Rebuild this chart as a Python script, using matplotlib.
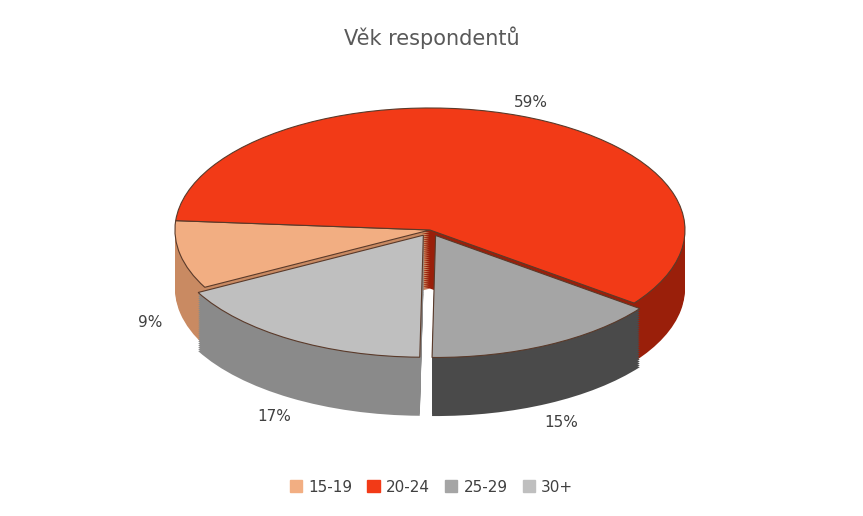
import matplotlib
matplotlib.use("Agg")
import matplotlib.pyplot as plt
import numpy as np

categories = ["15-19", "20-24", "25-29", "30+"]
values = [9, 59, 15, 17]
top_colors = ["#F2AE82", "#F23A17", "#A5A5A5", "#BFBFBF"]
side_colors = ["#C98A62", "#9A1F0A", "#4A4A4A", "#8A8A8A"]
explode = [0.0, 0.0, 0.05, 0.05]
start = 208

fig = plt.figure(figsize=(8.63, 5.16), dpi=100)
ax = fig.add_axes([0, 0, 1, 1])
depth = 0.48
n = 30
for k in range(n, 0, -1):
    off = -depth * k / n
    ax.pie(values, colors=side_colors, startangle=start, counterclock=False,
           explode=explode, center=(0, off), wedgeprops=dict(linewidth=0))
wedges, texts, autot = ax.pie(values, colors=top_colors, startangle=start, counterclock=False,
       explode=explode, center=(0, 0), autopct=lambda p: f"{round(p)}%", pctdistance=1.12,
       wedgeprops=dict(linewidth=0.8, edgecolor="#5a3a2a"),
       textprops=dict(color="#404040", fontsize=11))
for t in autot:
    x, y = t.get_position()
    if y < 0:
        t.set_position((x, y - depth - 0.05))
ax.set_aspect("auto")
ax.set_xlim(-1.686, 1.698)
ax.set_ylim(-2.344, 1.885)
ax.axis("off")

fig.text(0.5, 1 - 38 / 516, "Věk respondentů", ha="center", va="center",
         fontsize=15, color="#595959")
handles = [plt.Rectangle((0, 0), 1, 1, color=c) for c in top_colors]
fig.legend(handles, categories, loc="center", bbox_to_anchor=(0.5, 1 - 487 / 516),
           ncol=4, frameon=False, fontsize=11, handlelength=0.8, handleheight=0.8,
           columnspacing=1.0, handletextpad=0.4, labelcolor="#404040")
fig.savefig("out.png", dpi=100)
